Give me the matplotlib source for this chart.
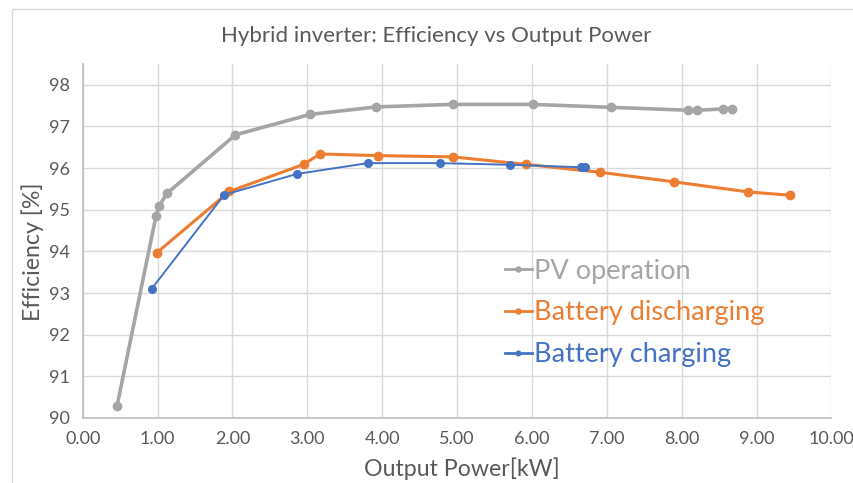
import matplotlib
matplotlib.use("Agg")
import matplotlib.pyplot as plt
from matplotlib.patches import Rectangle

plt.rcParams['font.family'] = ['Lato', 'DejaVu Sans']

# Data
pv_x = [0.46, 0.98, 1.02, 1.13, 2.04, 3.04, 3.92, 4.94, 6.01, 7.05, 8.08, 8.21, 8.55, 8.67]
pv_y = [90.30, 94.86, 95.09, 95.40, 96.80, 97.29, 97.47, 97.53, 97.53, 97.46, 97.39, 97.39, 97.42, 97.43]

dis_x = [0.99, 1.96, 2.95, 3.17, 3.95, 4.94, 5.92, 6.91, 7.90, 8.88, 9.44]
dis_y = [93.97, 95.44, 96.09, 96.34, 96.30, 96.27, 96.09, 95.90, 95.67, 95.43, 95.35]

chg_x = [0.92, 1.89, 2.86, 3.81, 4.77, 5.71, 6.66, 6.71]
chg_y = [93.10, 95.36, 95.86, 96.12, 96.12, 96.08, 96.02, 96.02]

x_ticks = [0, 1, 2, 3, 4, 5, 6, 7, 8, 9, 10]
y_ticks = [90, 91, 92, 93, 94, 95, 96, 97, 98]

title = "Hybrid inverter: Efficiency vs Output Power"
xlabel = "Output Power[kW]"
ylabel = "Efficiency [%]"

c_gray = "#A5A5A5"
c_orange = "#ED7D31"
c_blue = "#4472C4"
c_text = "#595959"

fig = plt.figure(figsize=(8.54, 4.83), dpi=100)
fig.patches.append(Rectangle((12.5/854, -0.1), 1.2, 1 - 9.5/483 + 0.1, transform=fig.transFigure,
                             fill=False, edgecolor="#d9d9d9", linewidth=1.0))
ax = fig.add_axes([82.7/854, 1 - 418/483, (831.5 - 82.7)/854, (418 - 64)/483])

ax.plot(pv_x, pv_y, color=c_gray, lw=2.6, marker='o', ms=6.0, label="PV operation", zorder=3)
ax.plot(dis_x, dis_y, color=c_orange, lw=2.2, marker='o', ms=6.0, label="Battery discharging", zorder=4)
ax.plot(chg_x, chg_y, color=c_blue, lw=1.4, marker='o', ms=5.5, label="Battery charging", zorder=5)

ax.set_xlim(0, 10)
ax.set_ylim(90, 98.5)
ax.set_xticks(x_ticks)
ax.set_xticklabels([f"{v:.2f}" for v in x_ticks])
ax.set_yticks(y_ticks)
ax.grid(True, color="#d9d9d9", lw=1.0, zorder=0)
ax.set_axisbelow(True)
for s in ['top', 'right']:
    ax.spines[s].set_visible(False)
for s in ['left', 'bottom']:
    ax.spines[s].set_color("#bfbfbf")
    ax.spines[s].set_linewidth(1.2)
ax.tick_params(length=0, labelsize=13, labelcolor=c_text, pad=9)

fig.text(436/854, 1 - 36/483, title, ha='center', va='center', fontsize=16, color=c_text)
fig.text(33/854, 1 - 252/483, ylabel, rotation=90, ha='center', va='center', fontsize=16.7, color=c_text)
fig.text(462/854, 1 - 469/483, xlabel, ha='center', va='center', fontsize=16.7, color=c_text)

leg = ax.legend(loc='upper left', bbox_to_anchor=(491/854, 1 - 245/483), bbox_transform=fig.transFigure,
                frameon=False, fontsize=19.5, handlelength=1.0, handletextpad=0.1, labelspacing=0.62,
                markerscale=0.6, labelcolor='linecolor', borderpad=0)
for h in leg.get_lines():
    h.set_linewidth(2.0)

fig.savefig("out.png", dpi=100)
